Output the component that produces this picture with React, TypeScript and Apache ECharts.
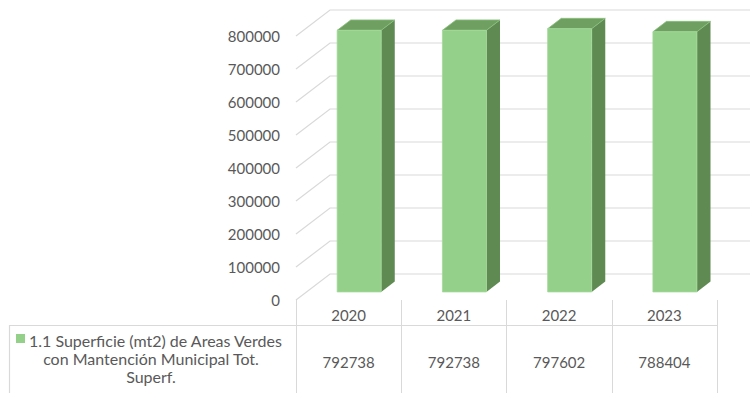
import React, { useEffect, useRef } from "react";
import * as echarts from "echarts";

const years = ["2020", "2021", "2022", "2023"];
const values = [792738, 792738, 797602, 788404];
const yTicks = [0, 100000, 200000, 300000, 400000, 500000, 600000, 700000, 800000];
const legendLines = ["1.1 Superficie (mt2) de Areas Verdes", "con Mantención Municipal Tot.", "Superf."];
const seriesName = legendLines.join(" ");

const TEXT = "#595959";
const GRID = "#D9D9D9";
const FRONT = "#94D08A";
const SIDE = "#5F8B53";
const TOP = "#6FA062";
const FONT = "Lato";

export default function App() {
  const ref = useRef<HTMLDivElement>(null);
  useEffect(() => {
    const chart = echarts.init(ref.current!, null, { renderer: "svg" });
    const DX = 34, DY = -26;
    const F0 = 0.31, F1 = 0.71;
    const HALF = 22;
    chart.setOption({
      animation: false,
      grid: { left: 296, right: 33, top: 36, bottom: 93 },
      xAxis: [
        {
          type: "category",
          data: years,
          position: "bottom",
          axisLine: { show: false },
          axisTick: { show: true, length: 93, lineStyle: { color: GRID } },
          axisLabel: { margin: 7, color: TEXT, fontSize: 15, fontFamily: FONT },
          splitLine: { show: false },
        },
        {
          type: "category",
          data: values.map(String),
          position: "bottom",
          offset: 47,
          axisLine: { show: false },
          axisTick: { show: false },
          axisLabel: { margin: 7, color: TEXT, fontSize: 15, fontFamily: FONT },
          splitLine: { show: false },
        },
      ],
      yAxis: {
        type: "value",
        min: 0,
        max: 800000,
        interval: 100000,
        axisLine: { show: false },
        axisTick: { show: false },
        splitLine: { show: false },
        axisLabel: {
          margin: 16,
          color: TEXT,
          fontSize: 15,
          fontFamily: FONT,
          formatter: (v: number) => String(v),
        },
      },
      series: [
        {
          type: "custom",
          name: "grid",
          coordinateSystem: "cartesian2d",
          silent: true,
          z: 1,
          data: yTicks.map((v) => [0, v]),
          renderItem: (params: any, api: any) => {
            const cs = params.coordSys;
            const y = api.coord([0, api.value(1)])[1];
            const x0 = cs.x, x1 = cs.x + cs.width;
            return {
              type: "polyline",
              shape: { points: [[x0, y], [x0 + DX, y + DY], [x1 + DX, y + DY]] },
              style: { stroke: GRID, fill: "none", lineWidth: 1.2 },
            };
          },
        },
        {
          type: "custom",
          name: seriesName,
          coordinateSystem: "cartesian2d",
          z: 3,
          data: values.map((v, i) => [i, v]),
          renderItem: (params: any, api: any) => {
            const idx = api.value(0), v = api.value(1);
            const top = api.coord([idx, v]);
            const base = api.coord([idx, 0]);
            const cx = top[0];
            const x0 = cx - HALF + F0 * DX, x1 = cx + HALF + F0 * DX;
            const yT = top[1] + F0 * DY, yB = base[1] + F0 * DY;
            const ddx = (F1 - F0) * DX, ddy = (F1 - F0) * DY;
            return {
              type: "group",
              children: [
                {
                  type: "polygon",
                  shape: { points: [[x1, yT], [x1 + ddx, yT + ddy], [x1 + ddx, yB + ddy], [x1, yB]] },
                  style: { fill: SIDE },
                },
                {
                  type: "polygon",
                  shape: { points: [[x0, yT], [x0 + ddx, yT + ddy], [x1 + ddx, yT + ddy], [x1, yT]] },
                  style: { fill: TOP, stroke: "#86C07A", lineWidth: 0.8 },
                },
                {
                  type: "rect",
                  shape: { x: x0, y: yT, width: x1 - x0, height: yB - yT },
                  style: { fill: FRONT, stroke: "#A3D99A", lineWidth: 0.8 },
                },
              ],
            };
          },
        },
      ],
      graphic: [
        { type: "line", shape: { x1: 9, y1: 325.5, x2: 717, y2: 325.5 }, style: { stroke: GRID, lineWidth: 1.2 } },
        { type: "line", shape: { x1: 9.5, y1: 325, x2: 9.5, y2: 393 }, style: { stroke: GRID, lineWidth: 1.2 } },
        { type: "rect", shape: { x: 16, y: 334, width: 9, height: 9 }, style: { fill: FRONT } },
        {
          type: "text",
          x: 29,
          y: 340,
          style: { text: legendLines[0], fill: TEXT, fontSize: 16, fontFamily: FONT, textAlign: "left", textVerticalAlign: "middle" },
        },
        {
          type: "text",
          x: 151,
          y: 358,
          style: { text: legendLines[1], fill: TEXT, fontSize: 16, fontFamily: FONT, textAlign: "center", textVerticalAlign: "middle" },
        },
        {
          type: "text",
          x: 151,
          y: 376,
          style: { text: legendLines[2], fill: TEXT, fontSize: 16, fontFamily: FONT, textAlign: "center", textVerticalAlign: "middle" },
        },
      ],
    });
    return () => chart.dispose();
  }, []);
  return (
    <div
      ref={ref}
      style={{ position: "fixed", left: 0, top: 0, width: 750, height: 393, background: "#fff" }}
    />
  );
}
